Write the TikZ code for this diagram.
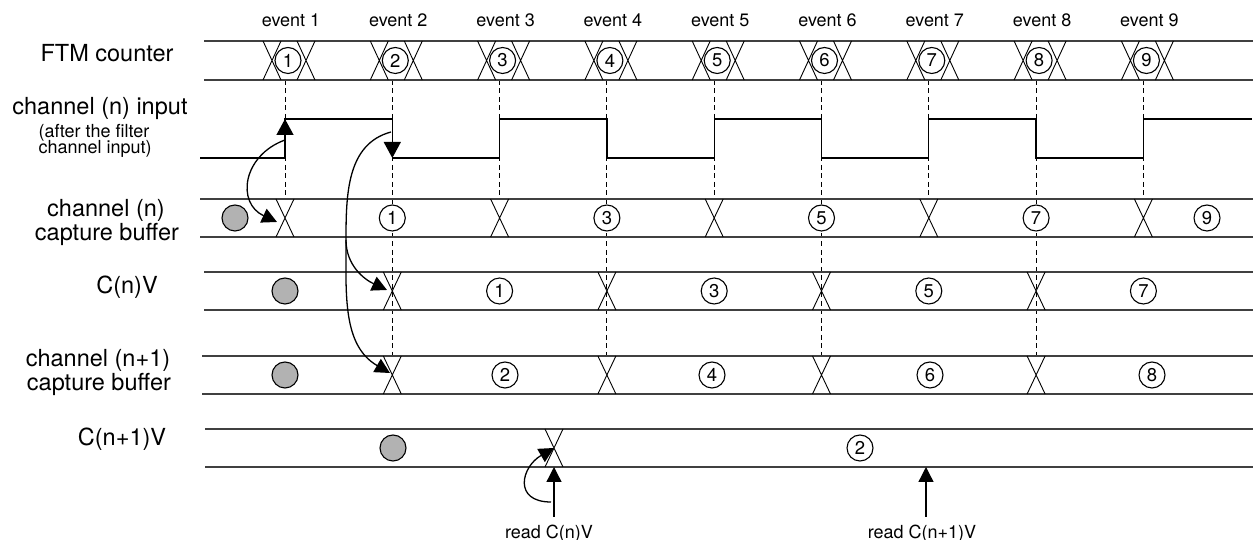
\documentclass[tikz,border=0pt]{standalone}
\usepackage{fontspec}
\setmainfont{TeX Gyre Heros}
\usetikzlibrary{arrows.meta}
\newcommand\busx[3]{\draw[cross] ({#1-9},#2) -- ({#1+9},#3) ({#1+9},#2) -- ({#1-9},#3);}

\begin{document}
\begin{tikzpicture}[x=1pt, y=1pt,
  bus/.style={line width=1.3pt, black!75},
  sig/.style={line width=1.3pt},
  cross/.style={line width=0.9pt},
  guide/.style={line width=0.9pt, dash pattern=on 5pt off 3.5pt},
  num/.style={circle, draw, line width=1.1pt, fill=white, minimum size=26pt, inner sep=0pt, font=\fontsize{18.5}{18.5}\selectfont},
  dot/.style={circle, draw, line width=1.1pt, fill=black!30, minimum size=26pt, inner sep=0pt},
  lbl/.style={font=\fontsize{23.5}{26}\selectfont, anchor=base},
  small/.style={font=\fontsize{18}{20}\selectfont, anchor=base},
  edge/.style={sig, -{Triangle[length=16pt,width=17pt]}},
  hook/.style={line width=1.3pt, -{Triangle[length=15pt,width=15pt]}}]
  \useasboundingbox (0,0) rectangle (1253,540);

  % Events
  \foreach \i in {1,...,9}{
    \pgfmathsetmacro\evx{285+107.3*(\i-1)}
    \coordinate (ev\i) at (\evx,460);
    \coordinate (lo\i) at (\evx,382);
    \coordinate (hi\i) at (\evx,421);
    \node[small] (evl\i) at (\evx+6,513) {event \i};
  }

  % Dashed guides
  \foreach \i in {1,3,5,7,9} \draw[guide] (ev\i) -- (ev\i |- 0,341);
  \foreach \i in {2,4,6,8} \draw[guide] (ev\i) -- (ev\i |- 0,184);

  % Row labels
  \node[lbl] (lftm) at (107,478) {FTM counter};
  \node[lbl] (lin) at (100,425) {channel (n) input};
  \node[small, anchor=base west] (lfilt) at (35,402) {(after the filter};
  \node[small, anchor=base west] (lfilt2) at (35,386) {channel input)};
  \node[lbl] (lcap) at (106,323.5) {channel (n)};
  \node[lbl] (lcap2) at (107,299.5) {capture buffer};
  \node[lbl] (lcnv) at (127,246) {C(n)V};
  \node[lbl] (lcapb) at (98,173) {channel (n+1)};
  \node[lbl] (lcapb2) at (99,149) {capture buffer};
  \node[lbl] (lcnvb) at (122,94) {C(n+1)V};

  % FTM counter
  \draw[bus] (204,499) -- (1253,499) (204,460) -- (1253,460);
  \foreach \i in {1,...,9}{
    \pgfmathsetmacro\evx{285+107.3*(\i-1)}
    \busx{\evx-13}{499}{460}
    \busx{\evx+21}{499}{460}
    \node[num] (ftm\i) at (\evx+3,479.5) {\i};
  }

  % Channel (n) input
  \draw[sig] (200,382) -- (lo1) -- (hi1) -- (hi2) -- (lo2) -- (lo3) -- (hi3) -- (hi4) -- (lo4)
    -- (lo5) -- (hi5) -- (hi6) -- (lo6) -- (lo7) -- (hi7) -- (hi8) -- (lo8) -- (lo9) -- (hi9) -- (1252,421);
  \draw[edge] (lo1) -- (hi1);
  \draw[edge] (hi2) -- (lo2);

  % Channel (n) capture buffer
  \draw[bus] (200,341) -- (1253,341) (200,303) -- (1253,303);
  \node[dot] (capd) at (235,322) {};
  \foreach \i in {1,3,5,7,9}{
    \pgfmathsetmacro\evx{285+107.3*(\i-1)}
    \busx{\evx}{341}{303}
  }
  \foreach \i/\n in {2/1,4/3,6/5,8/7} \node[num] (cap\n) at (ev\i |- 0,322) {\n};
  \node[num] (cap9) at (1207,322) {9};

  % C(n)V
  \draw[bus] (204,268) -- (1253,268) (204,230) -- (1253,230);
  \node[dot] (cnvd) at (285,249) {};
  \foreach \i in {2,4,6,8}{
    \pgfmathsetmacro\evx{285+107.3*(\i-1)}
    \busx{\evx}{268}{230}
  }
  \foreach \i/\n in {3/1,5/3,7/5,9/7} \node[num] (cnv\n) at (ev\i |- 0,249) {\n};

  % Channel (n+1) capture buffer
  \draw[bus] (202,184) -- (1253,184) (202,146) -- (1253,146);
  \node[dot] (capbd) at (285,165) {};
  \foreach \i in {2,4,6,8}{
    \pgfmathsetmacro\evx{285+107.3*(\i-1)}
    \busx{\evx}{184}{146}
  }
  \foreach \x/\n in {505/2,712/4,930/6,1152/8} \node[num] (capb\n) at (\x,165) {\n};

  % C(n+1)V
  \draw[bus] (205,111) -- (1253,111) (205,73) -- (1253,73);
  \node[dot] (cnvbd) at (393,92) {};
  \coordinate (rdx) at (554,92);
  \busx{554}{111}{73}
  \node[num] (cnvb2) at (860,92) {2};

  % Read markers
  \node[small] (rdl1) at (549,1.5) {read C(n)V};
  \node[small] (rdl2) at (922,1.5) {read C(n+1)V};
  \coordinate (rda) at (554,23);
  \coordinate (rdb) at (926,23);
  \draw[hook] (rda) -- (rdx |- 0,73);
  \draw[hook] (rdb) -- (rdb |- 0,73);
  \coordinate (rdc) at (551,38);
  \draw[hook] (rdc) to[out=180,in=210,looseness=1.8] (rdx);

  % Capture hooks
  \coordinate (srcA) at (285,400);
  \coordinate (tipA) at (277,318);
  \draw[hook] (srcA) to[out=200,in=155,looseness=1.4] (tipA);
  \coordinate (srcB) at (391,408);
  \coordinate (brB) at (346,300);
  \coordinate (tipB1) at (387,250);
  \coordinate (tipB2) at (390,167);
  \draw[sig] (srcB) to[out=195,in=90] (brB);
  \draw[hook] (brB) to[out=-90,in=155] (tipB1);
  \draw[hook] (brB) to[out=-90,in=150] (tipB2);
\end{tikzpicture}
\end{document}
